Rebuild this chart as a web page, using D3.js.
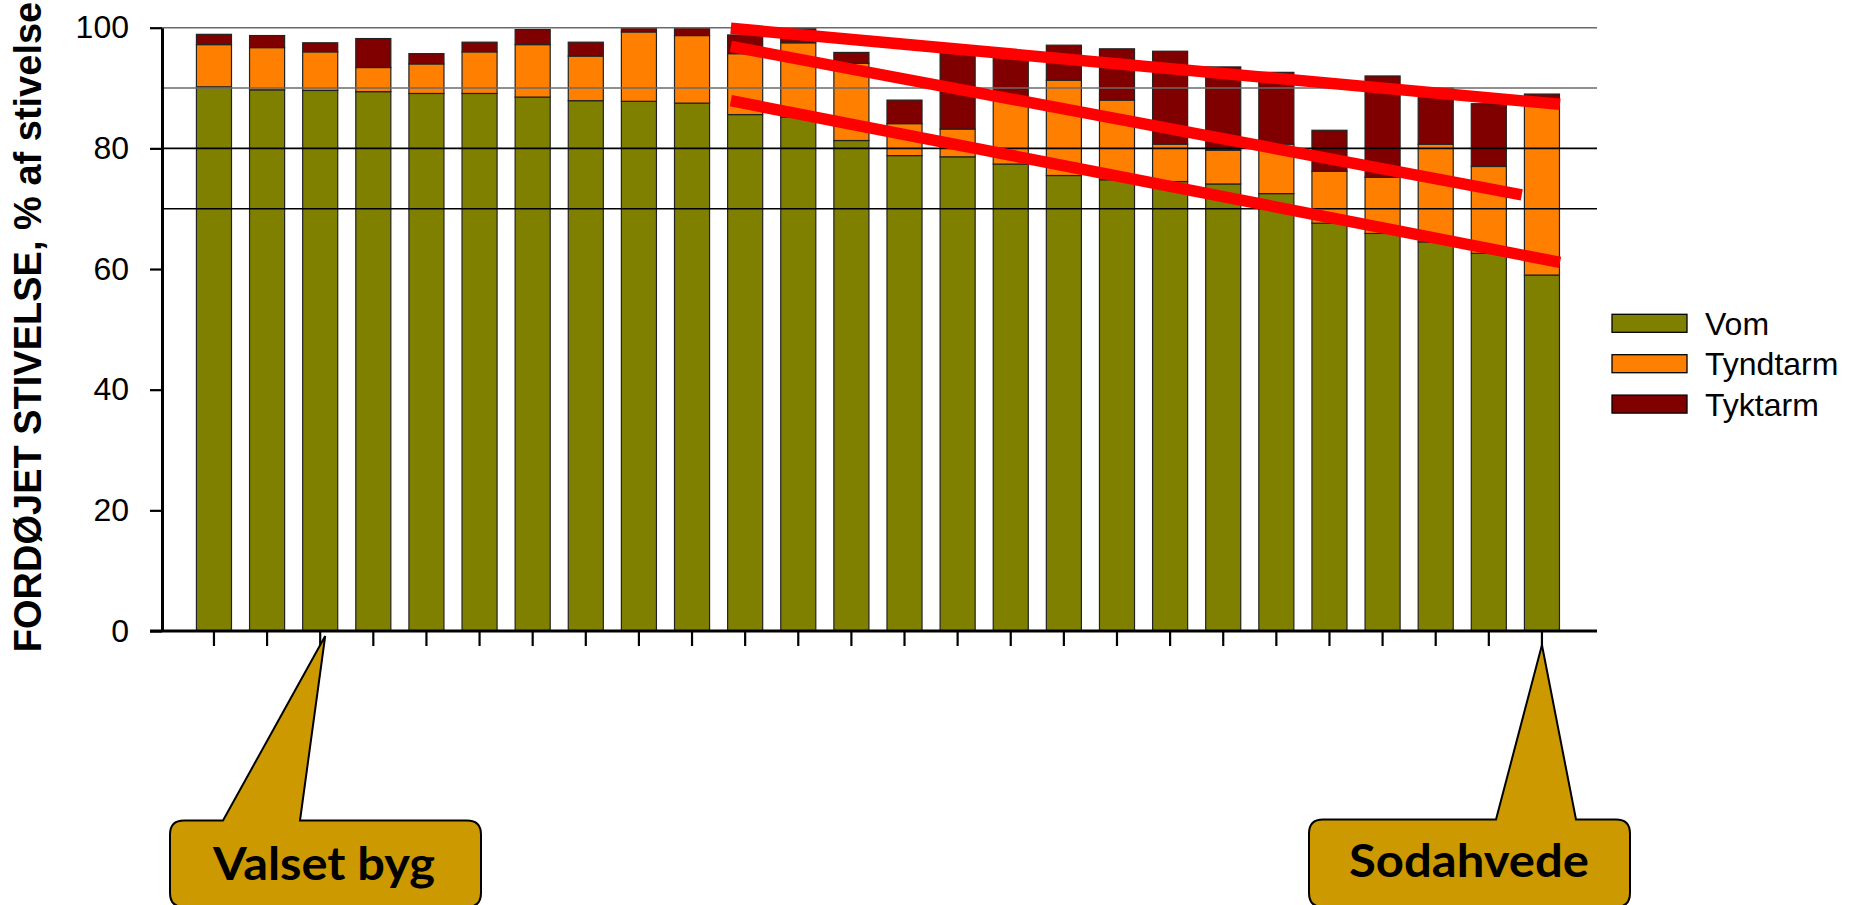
<!DOCTYPE html>
<html>
<head>
<meta charset="utf-8">
<title>Fordøjet stivelse</title>
<script src="https://d3js.org/d3.v7.min.js"></script>
<style>
body { margin: 0; background: #fff; }
svg text { font-family: "Liberation Sans", Arial, sans-serif; }
</style>
</head>
<body>

<svg id="chart_svg" width="1850" height="905"></svg>

<script>
// one bar per feed, Valset byg first and Sodahvede last
var categories = [1, 2, 3, 4, 5, 6, 7, 8, 9, 10, 11, 12, 13,
                  14, 15, 16, 17, 18, 19, 20, 21, 22, 23, 24, 25, 26];

// % of starch digested in each part of the gut
var vom      = [90.2, 89.7, 89.6, 89.4, 89.1, 89.1, 88.5, 87.9, 87.8, 87.5, 85.6, 85.2, 81.3,
                78.8, 78.6, 77.4, 75.5, 74.8, 74.5, 74.1, 72.5, 67.6, 65.9, 64.5, 62.6, 59.0];
var tyndtarm = [7.0, 7.0, 6.4, 4.0, 4.9, 6.9, 8.7, 7.4, 11.5, 11.2, 10.1, 12.3, 12.8,
                5.3, 4.6, 10.6, 15.8, 13.2, 6.2, 5.6, 8.2, 8.6, 9.3, 16.2, 14.4, 28.8];
var tyktarm  = [1.7, 2.0, 1.5, 4.8, 1.7, 1.6, 2.5, 2.3, 0.7, 1.3, 3.1, 2.4, 1.8,
                3.9, 12.8, 8.0, 5.8, 8.5, 15.4, 13.8, 11.9, 6.8, 16.8, 9.3, 10.4, 1.2];

var seriesNames = ["Vom", "Tyndtarm", "Tyktarm"];
var yTicks = [0, 20, 40, 60, 80, 100];
var refLines = [70, 80, 90, 100];

// red trend lines drawn over the bars: [bar index (0 = first bar centre), value]
var trendLines = [
  [[9.73, 99.9], [25.34, 87.3]],
  [[9.73, 96.9], [24.62, 72.3]],
  [[9.73, 87.9], [25.34, 61.1]]
];

var callouts = [
  { label: "Valset byg", category: 3 },
  { label: "Sodahvede", category: 26 }
];

var colors = { "Vom": "#808000", "Tyndtarm": "#ff8000", "Tyktarm": "#800000" };

var svg = d3.select("#chart_svg");

var plotLeft = 162, plotRight = 1597;

var x = d3.scaleBand()
  .domain(categories)
  .range([187.4, 1568.5])
  .paddingInner(0.34)
  .paddingOuter(0.17);

var y = d3.scaleLinear().domain([0, 100]).range([631, 27.7]);

// stack the three parts
var table = categories.map(function (c, i) {
  return { cat: c, "Vom": vom[i], "Tyndtarm": tyndtarm[i], "Tyktarm": tyktarm[i] };
});
var stacked = d3.stack().keys(seriesNames)(table);

var layers = svg.append("g").selectAll("g.layer")
  .data(stacked)
  .enter().append("g")
  .attr("class", "layer")
  .attr("fill", function (d) { return colors[d.key]; });

layers.selectAll("rect")
  .data(function (d) { return d; })
  .enter().append("rect")
  .attr("x", function (d) { return x(d.data.cat); })
  .attr("width", x.bandwidth())
  .attr("y", function (d) { return y(d[1]); })
  .attr("height", function (d) { return y(d[0]) - y(d[1]); })
  .attr("stroke", "#222")
  .attr("stroke-width", 1.2);

// horizontal lines in the upper part
svg.append("g").selectAll("line")
  .data(refLines)
  .enter().append("line")
  .attr("x1", plotLeft)
  .attr("x2", plotRight)
  .attr("y1", function (d) { return y(d); })
  .attr("y2", function (d) { return y(d); })
  .attr("stroke", function (d) { return d >= 90 ? "#6a6a6a" : "#000"; })
  .attr("stroke-width", 1.6);

// y axis
var yAxis = svg.append("g")
  .attr("transform", "translate(" + plotLeft + ",0)")
  .call(d3.axisLeft(y).tickValues(yTicks).tickSize(12).tickPadding(21).tickSizeOuter(0));
yAxis.select(".domain").attr("stroke-width", 3);
yAxis.selectAll(".tick line").attr("stroke-width", 2.2);
yAxis.selectAll(".tick text")
  .style("font-family", "'Liberation Sans', Arial, sans-serif")
  .style("font-size", "32px")
  .attr("fill", "#000");

// x axis: tick marks only
var xAxis = svg.append("g")
  .attr("transform", "translate(0," + y(0) + ")")
  .call(d3.axisBottom(x).tickSize(15).tickFormat("").tickSizeOuter(0));
xAxis.select(".domain").remove();
xAxis.selectAll(".tick line").attr("stroke-width", 2.2);
svg.append("line")
  .attr("x1", plotLeft - 12)
  .attr("x2", plotRight)
  .attr("y1", y(0))
  .attr("y2", y(0))
  .attr("stroke", "#000")
  .attr("stroke-width", 3);

svg.append("text")
  .attr("transform", "translate(41," + 327 + ") rotate(-90)")
  .attr("text-anchor", "middle")
  .style("font-size", "38px")
  .style("font-weight", "bold")
  .text("FORDØJET STIVELSE, % af stivelse");

// trend lines
var xIndex = d3.scaleLinear()
  .domain([0, categories.length - 1])
  .range([x(categories[0]) + x.bandwidth() / 2, x(categories[categories.length - 1]) + x.bandwidth() / 2]);

var trendLine = d3.line()
  .x(function (d) { return xIndex(d[0]); })
  .y(function (d) { return y(d[1]); });

svg.append("g").selectAll("path")
  .data(trendLines)
  .enter().append("path")
  .attr("d", trendLine)
  .attr("fill", "none")
  .attr("stroke", "#ff0000")
  .attr("stroke-width", 11.5);

// legend
var legend = svg.append("g").selectAll("g")
  .data(seriesNames)
  .enter().append("g")
  .attr("transform", function (d, i) { return "translate(1612," + (314.3 + i * 40.4) + ")"; });
legend.append("rect")
  .attr("width", 75)
  .attr("height", 18)
  .attr("fill", function (d) { return colors[d]; })
  .attr("stroke", "#000")
  .attr("stroke-width", 1.3);
legend.append("text")
  .attr("x", 93)
  .attr("y", 20.5)
  .style("font-size", "32px")
  .text(function (d) { return d; });

// callout boxes under the axis
var calloutBoxes = [
  { x0: 170, x1: 481, top: 820.5, bottom: 907, baseL: 223, baseR: 300, tipDx: 5, tipY: 636, textX: 324, textY: 880, textLen: 222 },
  { x0: 1309, x1: 1630, top: 819.5, bottom: 907, baseL: 1496, baseR: 1576, tipDx: 0, tipY: 645, textX: 1469, textY: 877, textLen: 240 }
];

function calloutPath(b, tipX) {
  var r = 14;
  return "M" + (b.x0 + r) + "," + b.top +
    "L" + b.baseL + "," + b.top +
    "L" + tipX + "," + b.tipY +
    "L" + b.baseR + "," + b.top +
    "L" + (b.x1 - r) + "," + b.top +
    "Q" + b.x1 + "," + b.top + " " + b.x1 + "," + (b.top + r) +
    "L" + b.x1 + "," + (b.bottom - r) +
    "Q" + b.x1 + "," + b.bottom + " " + (b.x1 - r) + "," + b.bottom +
    "L" + (b.x0 + r) + "," + b.bottom +
    "Q" + b.x0 + "," + b.bottom + " " + b.x0 + "," + (b.bottom - r) +
    "L" + b.x0 + "," + (b.top + r) +
    "Q" + b.x0 + "," + b.top + " " + (b.x0 + r) + "," + b.top + "Z";
}

callouts.forEach(function (c, i) {
  var b = calloutBoxes[i];
  var tipX = x(c.category) + x.bandwidth() / 2 + b.tipDx;
  svg.append("path")
    .attr("d", calloutPath(b, tipX))
    .attr("fill", "#cc9900")
    .attr("stroke", "#000")
    .attr("stroke-width", 2);
  svg.append("text")
    .attr("x", b.textX)
    .attr("y", b.textY)
    .attr("text-anchor", "middle")
    .attr("textLength", b.textLen)
    .attr("lengthAdjust", "spacingAndGlyphs")
    .style("font-family", "Lato, 'Liberation Sans', sans-serif")
    .style("font-size", "45px")
    .style("font-weight", "bold")
    .text(c.label);
});
</script>

</body>
</html>
